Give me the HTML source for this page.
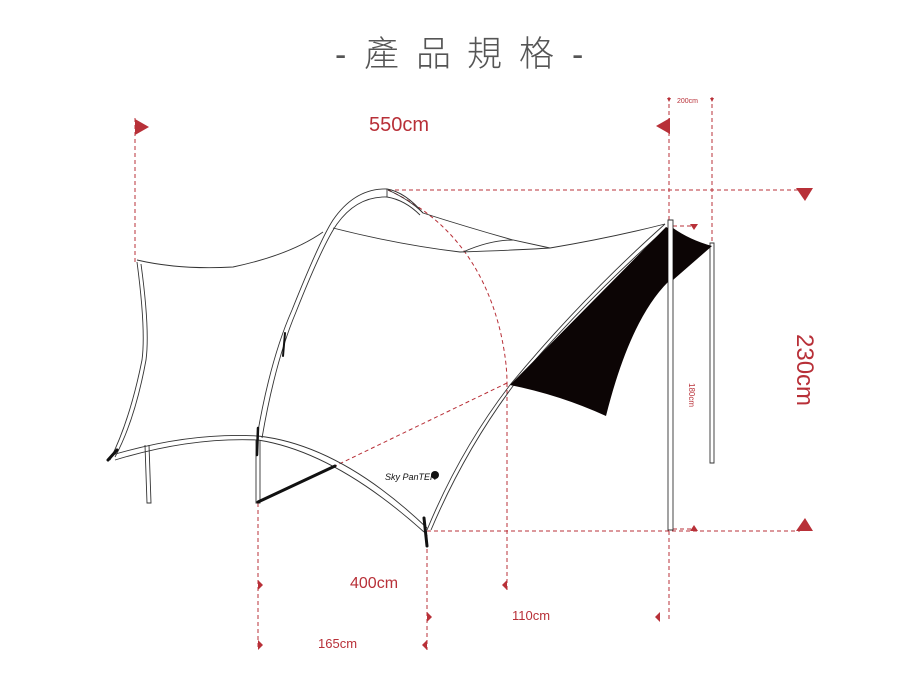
<!DOCTYPE html>
<html><head><meta charset="utf-8"><style>
html,body{margin:0;padding:0;background:#fff;}
svg{display:block;}
text{font-family:"Liberation Sans","Noto Sans CJK TC",sans-serif;}
</style></head><body>
<svg width="915" height="685" viewBox="0 0 915 685" xmlns="http://www.w3.org/2000/svg">
<rect width="915" height="685" fill="#fff"/>
<!-- title -->
<text x="335" y="66" font-size="34" fill="#555">-</text>
<text x="364" y="66" font-size="35" fill="#555" font-family="'Noto Sans CJK TC',sans-serif" style="font-weight:300">產</text>
<text x="416" y="66" font-size="35" fill="#555" font-family="'Noto Sans CJK TC',sans-serif" style="font-weight:300">品</text>
<text x="467" y="66" font-size="35" fill="#555" font-family="'Noto Sans CJK TC',sans-serif" style="font-weight:300">規</text>
<text x="519" y="66" font-size="35" fill="#555" font-family="'Noto Sans CJK TC',sans-serif" style="font-weight:300">格</text>
<text x="572" y="66" font-size="34" fill="#555">-</text>

<g stroke="#b83038" stroke-width="1" stroke-dasharray="4,3" fill="none">
 <line x1="135" y1="118" x2="135" y2="262"/>
 <line x1="669" y1="97" x2="669" y2="620"/>
 <line x1="712" y1="97" x2="712" y2="245"/>
 <line x1="388" y1="190" x2="800" y2="190"/>
 <line x1="427" y1="531" x2="800" y2="531"/>
 <line x1="258" y1="503" x2="258" y2="650"/>
 <line x1="427" y1="535" x2="427" y2="650"/>
 <line x1="507" y1="383" x2="507" y2="590"/>
 <path d="M388,190 Q475,230 500,330 Q507,360 507,383"/>
 <line x1="507" y1="383" x2="335" y2="466"/>
 <line x1="673" y1="226" x2="694" y2="226"/>
 <line x1="673" y1="529" x2="694" y2="529"/>
</g>
<g fill="#b83038">
 <polygon points="135,119 149,127 135,135"/>
 <polygon points="670,118 656,126 670,134"/>
 <polygon points="796,188 813,188 805,201"/>
 <polygon points="796,531 813,531 805,518"/>
 <polygon points="690,224 698,224 694,230"/>
 <polygon points="690,531 698,531 694,525"/>
 <polygon points="258,580 263,585 258,590"/>
 <polygon points="507,580 502,585 507,590"/>
 <polygon points="427,612 432,617 427,622"/>
 <polygon points="660,612 655,617 660,622"/>
 <polygon points="258,640 263,645 258,650"/>
 <polygon points="427,640 422,645 427,650"/>
 <polygon points="667,98 671,98 669,102"/>
 <polygon points="710,98 714,98 712,102"/>
</g>
<g fill="#b83038">
 <text x="369" y="131" font-size="20">550cm</text>
 <text x="677" y="103" font-size="7">200cm</text>
 <text x="350" y="588" font-size="16">400cm</text>
 <text x="512" y="620" font-size="13">110cm</text>
 <text x="318" y="648" font-size="13">165cm</text>
 <text transform="translate(797,334) rotate(90)" font-size="24">230cm</text>
 <text transform="translate(689,383) rotate(90)" font-size="8">180cm</text>
</g>

<!-- tent -->
<g stroke="#333" stroke-width="0.9" fill="none">
 <path d="M137,260 Q180,270 233,267 Q290,255 323,232"/>
 <path d="M333,228 Q400,245 460,252 Q520,250 550,248 Q610,238 665,224"/>
 <path d="M388,190 Q410,200 423,213 Q470,228 513,240 L550,248"/>
 <path d="M463,252 Q490,240 513,240"/>
 <path d="M137,262 Q146,330 142,360 Q130,420 110,460"/>
 <path d="M141,264 Q150,330 146,360 Q135,420 115,457"/>
 <path d="M112,455 Q190,432 258,436 Q340,445 427,528"/>
 <path d="M115,460 Q190,437 258,440 Q335,452 424,532"/>
 <path d="M257,437 Q270,360 292,310 Q320,240 333,220 Q355,188 387,189 Q405,192 423,213"/>
 <path d="M262,438 Q275,362 296,312 Q323,244 337,224 Q357,196 387,197 Q405,200 420,215"/>
 <line x1="387" y1="189" x2="387" y2="197"/>
 <path d="M145,445 L147,503 L151,503 L149,445"/>
 <path d="M256,440 L256,503 L260,503 L260,440"/>
 <path d="M427,530 Q460,450 510,385 Q580,300 665,224"/>
 <path d="M431,530 Q464,452 513,386 Q582,303 667,228"/>
 <path d="M668,220 L668,530 L673,530 L673,220 Z" fill="#fff"/>
 <path d="M710,243 L710,463 L714,463 L714,243 Z" fill="#fff"/>
</g>
<path d="M510,385 L666,227 L668,228 L668,282 Q630,320 606,416 Q560,395 510,385 Z" fill="#0c0505"/>
<path d="M673,228 Q690,240 712,246 L673,280 Z" fill="#0c0505"/>
<g stroke="#111" stroke-linecap="round">
 <line x1="258" y1="502" x2="335" y2="466" stroke-width="3"/>
 <line x1="108" y1="460" x2="117" y2="450" stroke-width="3"/>
 <line x1="258" y1="428" x2="257" y2="455" stroke-width="2.5"/>
 <line x1="285" y1="333" x2="283" y2="356" stroke-width="2"/>
 <line x1="424" y1="518" x2="427" y2="546" stroke-width="3"/>
</g>
<text x="385" y="480" font-size="9" fill="#111" font-family="'Liberation Serif',serif" font-style="italic">Sky PanTER</text>
<circle cx="435" cy="475" r="4" fill="#111"/>
</svg>
</body></html>
